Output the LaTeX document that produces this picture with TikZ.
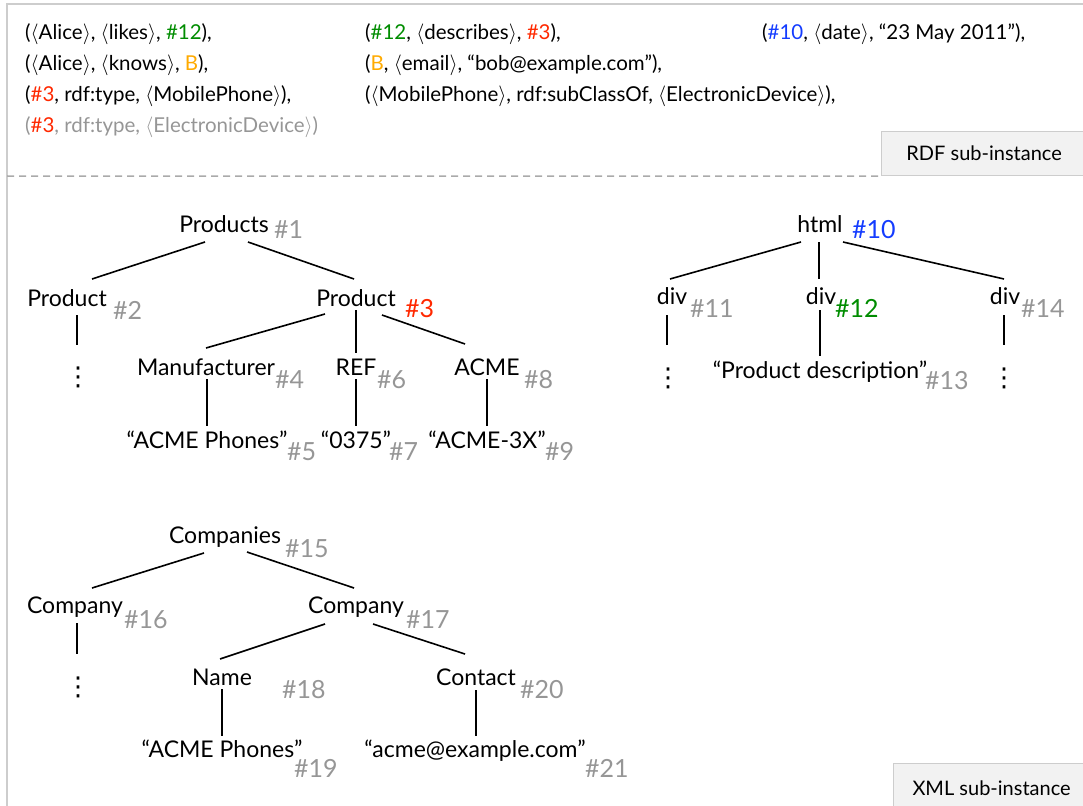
\documentclass[tikz,border=0pt]{standalone}
\usepackage{fontspec}
\setmainfont{Lato}
\newfontfamily\dvfont{DejaVu Sans}
\definecolor{hgreen}{RGB}{0,140,0}
\definecolor{hred}{RGB}{255,40,0}
\definecolor{horange}{RGB}{255,170,0}
\definecolor{hblue}{RGB}{20,60,255}
\definecolor{hgray}{RGB}{150,150,150}
\definecolor{framegray}{RGB}{205,205,205}
\definecolor{dashgray}{RGB}{170,170,170}
\definecolor{boxfill}{RGB}{242,242,242}
\newcommand{\angb}[1]{$\langle$#1$\rangle$}
\tikzset{
  tn/.style={anchor=base, inner sep=0pt, font=\fontsize{23}{27}\selectfont},
  hl/.style={anchor=base west, inner sep=0pt, text=hgray, font=\fontsize{25}{30}\selectfont},
  dotsn/.style={anchor=center, inner sep=0pt, font=\dvfont\fontsize{26}{30}\selectfont},
  tt/.style={anchor=base west, inner sep=0pt, font=\fontsize{20.5}{24}\selectfont},
  edge/.style={line width=1.6pt, black},
  lblbox/.style={draw=framegray, line width=1.2pt, fill=boxfill, anchor=north west, inner sep=0pt, font=\fontsize{20}{24}\selectfont}
}
\begin{document}
\begin{tikzpicture}[x=1pt, y=-1pt]
\useasboundingbox (0,0) rectangle (1083,805);
% frame
\coordinate (frTR) at (1095,4);
\coordinate (frTL) at (7,4);
\coordinate (frBL) at (7,815);
\draw[framegray, line width=2pt] (frTR) -- (frTL) -- (frBL);
% label boxes
\node[lblbox, minimum width=205pt, minimum height=44pt] (rdf) at (881,131) {RDF sub-instance\hspace{14pt}};
\node[lblbox, minimum width=196pt, minimum height=50pt] (xml) at (893,763) {XML sub-instance\hspace{6pt}};
\coordinate (dl) at (7,176);
\draw[dashgray, line width=1.5pt, dash pattern=on 7pt off 5pt] (dl) -- (rdf.south west);

% RDF text
\node[tt] (r11) at (25,40) {(\angb{Alice}, \angb{likes}, \textcolor{hgreen}{\#12}),};
\node[tt] (r21) at (25,71) {(\angb{Alice}, \angb{knows}, \textcolor{horange}{B}),};
\node[tt] (r31) at (25,102) {(\textcolor{hred}{\#3}, rdf:type, \angb{MobilePhone}),};
\node[tt, text=hgray] (r41) at (25,133) {(\textcolor{hred}{\#3}, rdf:type, \angb{ElectronicDevice})};
\node[tt] (r12) at (365,40) {(\textcolor{hgreen}{\#12}, \angb{describes}, \textcolor{hred}{\#3}),};
\node[tt] (r22) at (365,71) {(\textcolor{horange}{B}, \angb{email}, “bob@example.com”),};
\node[tt] (r32) at (365,102) {(\angb{MobilePhone}, rdf:subClassOf, \angb{ElectronicDevice}),};
\node[tt] (r13) at (762,40) {(\textcolor{hblue}{\#10}, \angb{date}, “23 May 2011”),};

% Tree 1
\node[tn] (p1) at (224,232) {Products};
\node[tn] (p2) at (67,306) {Product};
\node[tn] (p3) at (356,306) {Product};
\node[dotsn] (d2) at (78,377) {⋮};
\node[tn] (m4) at (206,375) {Manufacturer};
\node[tn] (r6) at (356,375) {REF};
\node[tn] (a8) at (487,375) {ACME};
\node[tn] (s5) at (207,448) {“ACME Phones”};
\node[tn] (s7) at (356,448) {“0375”};
\node[tn] (s9) at (487,448) {“ACME-3X”};
\node[hl] (h1) at (274,238) {\#1};
\node[hl] (h2) at (113,319) {\#2};
\node[hl, text=hred] (h3) at (405,317) {\#3};
\node[hl] (h4) at (275,388) {\#4};
\node[hl] (h5) at (287,460) {\#5};
\node[hl] (h6) at (377,388) {\#6};
\node[hl] (h7) at (389,460) {\#7};
\node[hl] (h8) at (524,388) {\#8};
\node[hl] (h9) at (545,460) {\#9};
\draw[edge] ([shift={(-19,10)}]p1.base) -- ([shift={(25,-27)}]p2.base);
\draw[edge] ([shift={(24,10)}]p1.base) -- ([shift={(-2,-27)}]p3.base);
\draw[edge] ([shift={(10,9)}]p2.base) -- ([shift={(-1,-32)}]d2.center);
\draw[edge] ([shift={(-31,8)}]p3.base) -- ([shift={(0,-27)}]m4.base);
\draw[edge] ([shift={(0,4)}]p3.base) -- ([shift={(0,-22)}]r6.base);
\draw[edge] ([shift={(26,9)}]p3.base) -- ([shift={(-22,-31)}]a8.base);
\draw[edge] ([shift={(1,4)}]m4.base) -- ([shift={(0,-22)}]s5.base);
\draw[edge] ([shift={(0,4)}]r6.base) -- ([shift={(0,-22)}]s7.base);
\draw[edge] ([shift={(0,4)}]a8.base) -- ([shift={(0,-22)}]s9.base);

% Tree 2
\node[tn] (t10) at (820,232) {html};
\node[tn] (t11) at (672,304) {div};
\node[tn] (t12) at (821,304) {div};
\node[tn] (t14) at (1005,304) {div};
\node[dotsn] (d11) at (668,378) {⋮};
\node[tn] (t13) at (820,378) {“Product description”};
\node[dotsn] (d14) at (1004,378) {⋮};
\node[hl, text=hblue] (h10) at (852,238) {\#10};
\node[hl] (h11) at (690,317) {\#11};
\node[hl, text=hgreen] (h12) at (835,317) {\#12};
\node[hl] (h13) at (925,389) {\#13};
\node[hl] (h14) at (1021,317) {\#14};
\draw[edge] ([shift={(-19,10)}]t10.base) -- ([shift={(-2,-25)}]t11.base);
\draw[edge] ([shift={(-1,10)}]t10.base) -- ([shift={(-2,-25)}]t12.base);
\draw[edge] ([shift={(23,10)}]t10.base) -- ([shift={(-1,-25)}]t14.base);
\draw[edge] ([shift={(-5,11)}]t11.base) -- ([shift={(-1,-33)}]d11.center);
\draw[edge] ([shift={(-1,6)}]t12.base) -- ([shift={(0,-22)}]t13.base);
\draw[edge] ([shift={(-1,11)}]t14.base) -- ([shift={(0,-33)}]d14.center);

% Tree 3
\node[tn] (c15) at (225,543) {Companies};
\node[tn] (c16) at (75,613) {Company};
\node[tn] (c17) at (356,613) {Company};
\node[dotsn] (d16) at (78,687) {⋮};
\node[tn] (c18) at (222,685) {Name};
\node[tn] (c20) at (476,685) {Contact};
\node[tn] (c19) at (222,757) {“ACME Phones”};
\node[tn] (c21) at (475,757) {“acme@example.com”};
\node[hl] (h15) at (285,557) {\#15};
\node[hl] (h16) at (124,628) {\#16};
\node[hl] (h17) at (406,628) {\#17};
\node[hl] (h18) at (282,698) {\#18};
\node[hl] (h19) at (294,777) {\#19};
\node[hl] (h20) at (520,698) {\#20};
\node[hl] (h21) at (585,777) {\#21};
\draw[edge] ([shift={(-21,10)}]c15.base) -- ([shift={(17,-25)}]c16.base);
\draw[edge] ([shift={(22,9)}]c15.base) -- ([shift={(-2,-25)}]c17.base);
\draw[edge] ([shift={(2,10)}]c16.base) -- ([shift={(-1,-33)}]d16.center);
\draw[edge] ([shift={(-31,11)}]c17.base) -- ([shift={(-2,-26)}]c18.base);
\draw[edge] ([shift={(17,11)}]c17.base) -- ([shift={(-11,-31)}]c20.base);
\draw[edge] ([shift={(0,4)}]c18.base) -- ([shift={(0,-21)}]c19.base);
\draw[edge] ([shift={(0,5)}]c20.base) -- ([shift={(1,-21)}]c21.base);
\end{tikzpicture}
\end{document}
